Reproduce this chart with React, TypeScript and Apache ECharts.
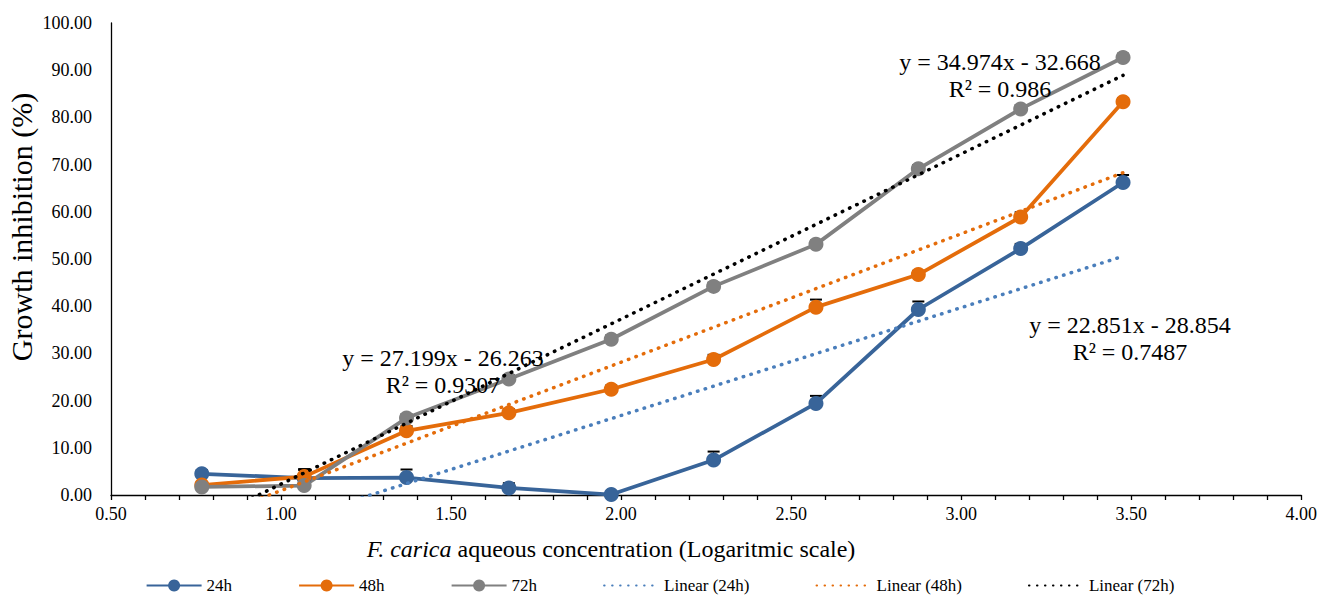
import React, { useEffect, useRef } from "react";
import * as echarts from "echarts";

const xValues = [0.767, 1.068, 1.369, 1.67, 1.971, 2.272, 2.573, 2.874, 3.175, 3.476];
const inhib24 = [4.5, 3.6, 3.7, 1.5, 0.1, 7.4, 19.4, 39.3, 52.2, 66.2];
const inhib48 = [2.1, 3.9, 13.6, 17.4, 22.4, 28.7, 39.8, 46.7, 58.9, 83.3];
const inhib72 = [1.7, 2.0, 16.3, 24.6, 33.0, 44.2, 53.1, 69.1, 81.8, 92.7];
const err24 = [0.8, 1.7, 1.7, 1.0, 0.6, 1.8, 1.6, 1.7, 1.0, 1.6];
const err48 = [0.6, 1.6, 1.0, 0.8, 0.8, 1.0, 1.6, 0.8, 1.0, 0.8];
const err72 = [0.5, 0.5, 0.8, 0.8, 0.8, 0.8, 0.8, 0.8, 0.8, 0.8];
const seriesNames = ["24h", "48h", "72h"];
const trendNames = ["Linear (24h)", "Linear (48h)", "Linear (72h)"];
const trendSlopes = [22.851, 27.199, 34.974];
const trendIntercepts = [-28.854, -26.263, -32.668];
const trendR2 = ["0.7487", "0.9307", "0.986"];
const xTickLabels = ["0.50", "1.00", "1.50", "2.00", "2.50", "3.00", "3.50", "4.00"];

const FONT = "Liberation Serif";
const colors = ["#386499", "#E46C0A", "#808080"];
const trendColors = ["#4A7EBB", "#E46C0A", "#000000"];

function fmtEq(i: number) {
  const b = trendIntercepts[i];
  const sign = b < 0 ? "-" : "+";
  return `y = ${trendSlopes[i].toFixed(3)}x ${sign} ${Math.abs(b).toFixed(3)}\nR² = ${trendR2[i]}`;
}

export default function App() {
  const ref = useRef<HTMLDivElement>(null);
  useEffect(() => {
    if (!ref.current) return;
    const chart = echarts.init(ref.current, undefined, { renderer: "svg" });
    const data = [inhib24, inhib48, inhib72];
    const errs = [err24, err48, err72];
    const lineSeries: any[] = data.map((vals, i) => ({
      name: seriesNames[i],
      type: "line",
      data: vals.map((v, k) => [xValues[k], v]),
      symbol: "circle",
      symbolSize: 15,
      itemStyle: { color: colors[i] },
      lineStyle: { color: colors[i], width: 3.75 },
      z: 3,
    }));
    const errSeries: any[] = data.map((vals, i) => ({
      name: "err" + seriesNames[i],
      type: "custom",
      z: 2,
      data: vals.map((v, k) => [xValues[k], v, errs[i][k]]),
      renderItem: (params: any, api: any) => {
        const x = api.value(0);
        const y = api.value(1);
        const e = api.value(2);
        const p0 = api.coord([x, y]);
        const p1 = api.coord([x, y + e]);
        return {
          type: "group",
          children: [
            { type: "line", shape: { x1: p0[0], y1: p0[1], x2: p1[0], y2: p1[1] }, style: { stroke: "#000", lineWidth: 1 } },
            { type: "line", shape: { x1: p1[0] - 6, y1: p1[1], x2: p1[0] + 6, y2: p1[1] }, style: { stroke: "#000", lineWidth: 2 } },
          ],
        };
      },
    }));
    const trendSeries: any[] = trendSlopes.map((m, i) => {
      const x0 = xValues[0];
      const x1 = xValues[xValues.length - 1];
      return {
        name: trendNames[i],
        type: "line",
        data: [
          [x0, m * x0 + trendIntercepts[i]],
          [x1, m * x1 + trendIntercepts[i]],
        ],
        symbol: "none",
        clip: true,
        lineStyle: { color: trendColors[i], width: 3.5, type: [0.5, 7.5], cap: "round" },
        itemStyle: { color: trendColors[i] },
        z: 4,
      };
    });
    const eqPos = [
      [1130, 338],
      [443, 371],
      [1000, 75],
    ];
    chart.setOption({
      animation: false,
      grid: { left: 111, right: 17, top: 23, bottom: 106 },
      textStyle: { fontFamily: FONT },
      xAxis: {
        type: "value",
        min: 0.5,
        max: 4,
        interval: 0.5,
        axisLine: { show: true, onZero: false, lineStyle: { color: "#000", width: 1.3 } },
        axisTick: { show: true, length: 5, lineStyle: { color: "#000", width: 1.3 } },
        minorTick: { show: true, splitNumber: 5, length: 5, lineStyle: { color: "#000", width: 1.3 } },
        splitLine: { show: false },
        axisLabel: {
          color: "#000",
          fontSize: 18,
          fontFamily: FONT,
          margin: 10,
          formatter: (v: number) => xTickLabels[Math.round((v - 0.5) / 0.5)] ?? v.toFixed(2),
        },
      },
      yAxis: {
        type: "value",
        min: 0,
        max: 100,
        interval: 10,
        axisLine: { show: true, lineStyle: { color: "#000", width: 1.3 } },
        axisTick: { show: false },
        splitLine: { show: false },
        axisLabel: { color: "#000", fontSize: 18, fontFamily: FONT, margin: 19, formatter: (v: number) => v.toFixed(2) },
      },
      legend: {
        data: [
          ...seriesNames,
          ...trendNames.map((n) => ({ name: n, itemStyle: { opacity: 0 } })),
        ],
        bottom: 2,
        left: "center",
        itemWidth: 55,
        itemHeight: 15,
        itemGap: 66,
        textStyle: { color: "#000", fontSize: 17, fontFamily: FONT },
      },
      graphic: [
        ...eqPos.map((p, i) => ({
          type: "text",
          x: p[0],
          y: p[1],
          z: 10,
          style: {
            text: fmtEq(i),
            textAlign: "center",
            textVerticalAlign: "middle",
            fontSize: 24,
            fontFamily: FONT,
            lineHeight: 27,
            fill: "#000",
          },
        })),
        {
          type: "text",
          x: 611,
          y: 549,
          style: {
            text: "{i|F. carica} aqueous concentration (Logaritmic scale)",
            textAlign: "center",
            textVerticalAlign: "middle",
            fontSize: 24,
            fontFamily: FONT,
            fill: "#000",
            rich: { i: { fontStyle: "italic", fontSize: 24, fontFamily: FONT, fill: "#000" } },
          },
        },
        {
          type: "text",
          x: 21,
          y: 227,
          rotation: Math.PI / 2,
          style: {
            text: "Growth inhibition (%)",
            textAlign: "center",
            textVerticalAlign: "middle",
            fontSize: 30,
            fontFamily: FONT,
            fill: "#000",
          },
        },
      ],
      series: [...errSeries, ...lineSeries, ...trendSeries],
    });
    return () => chart.dispose();
  }, []);
  return <div ref={ref} style={{ position: "absolute", left: 0, top: 0, width: 1320, height: 601 }} />;
}
